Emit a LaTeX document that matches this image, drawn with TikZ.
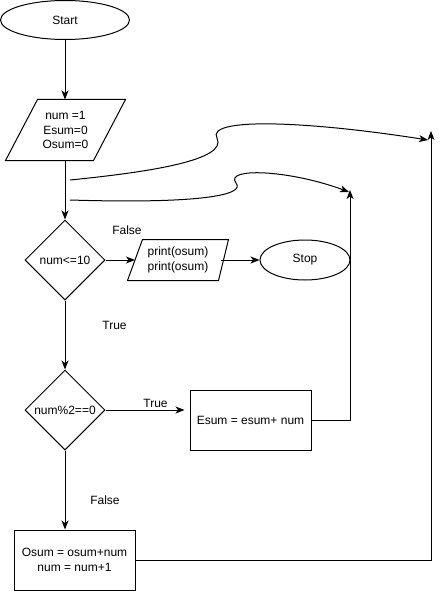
\documentclass[tikz,border=0pt]{standalone}
\usepackage{fontspec}
\setmainfont{Liberation Sans}
\usetikzlibrary{shapes.geometric,arrows.meta,calc}

\tikzset{
  base/.style={font=\fontsize{12}{14.5}\selectfont, align=center, inner sep=0pt},
  term/.style={base, ellipse, draw},
  decision/.style={base, diamond, draw, minimum width=80, minimum height=80},
  process/.style={base, rectangle, draw, minimum width=121, minimum height=60},
  iobox/.style={base, rectangle, draw=none},
  lbl/.style={base},
  arr/.style={-{Stealth[length=9pt,width=7pt,inset=2.5pt]}},
  flow/.style={line width=1pt, line join=miter}
}

\begin{document}
\begin{tikzpicture}[x=1pt, y=-1pt, flow]
  \useasboundingbox (0,0) rectangle (439,591);

  % terminals
  \node[term, minimum width=129, minimum height=39] (start) at (65,20) {Start};
  \node[term, minimum width=90, minimum height=40] (stop) at (305,260) {Stop};

  % input: initial values (parallelogram)
  \node[iobox, minimum width=119, minimum height=60] (init) at (65.5,130) {num =1\\Esum=0\\Osum=0};
  \draw ($(init.north west)+(32,0)$) -- (init.north east) -- ($(init.south east)+(-32,0)$) -- (init.south west) -- cycle;

  % output: print results (parallelogram)
  \node[iobox, minimum width=100, minimum height=40] (out) at (178,260) {print(osum)\\print(osum)};
  \draw ($(out.north west)+(15,0)$) -- (out.north east) -- ($(out.south east)+(-10,0)$) -- (out.south west) -- cycle;

  % decisions
  \node[decision] (cond) at (65,260) {num<=10};
  \node[decision] (even) at (65,410) {num\%2==0};

  % processes
  \node[process] (esum) at (250.5,420) {Esum = esum+ num};
  \node[process] (osum) at (74.5,560) {Osum = osum+num\\num = num+1};

  % main flow
  \draw[arr] (start.south) -- (start.south |- init.north);
  \draw[arr] (start.south |- init.south) -- (cond.north);
  \draw[arr] (cond.east) -- ($(out.west)+(7.5,0)$);
  \draw[arr] ($(out.east)+(-7.5,0)$) -- (stop.west);
  \draw[arr] (cond.south) -- (even.north);
  \draw[arr, shorten >=5pt] (even.east) -- (even.east -| esum.west);
  \draw[arr] (even.south) -- (even.south |- osum.north);

  % loop-back lines
  \coordinate (loopE) at (350,190);
  \coordinate (loopO) at (431,131);
  \draw[arr] (esum.east) -- (esum.east -| loopE) -- (loopE);
  \draw[arr] (osum.east) -- (osum.east -| loopO) -- (loopO);

  % curved returns into the condition line
  \coordinate (retO) at (70,180);
  \coordinate (retE) at (70,200);
  \coordinate (tipO) at (428,140);
  \coordinate (tipE) at (349,192);
  \draw[arr] (retO) .. controls (150,172) and (228,160) .. (217,138)
                    .. controls (206,118) and (300,120) .. (tipO);
  \draw[arr] (retE) .. controls (200,204) and (246,195) .. (236,183)
                    .. controls (224,167) and (290,170) .. (tipE);

  % branch labels
  \node[lbl] (lf1) at (127,230) {False};
  \node[lbl] (lt1) at (114.5,325) {True};
  \node[lbl] (lt2) at (155.5,403) {True};
  \node[lbl] (lf2) at (105,500) {False};
\end{tikzpicture}
\end{document}
